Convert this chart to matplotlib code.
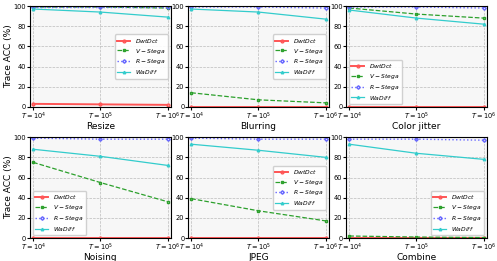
import numpy as np
import matplotlib.pyplot as plt

x_labels = [r'$T=10^4$', r'$T=10^5$', r'$T=10^6$']
attacks = ['Resize', 'Blurring', 'Color jitter', 'Noising', 'JPEG', 'Combine']

dwtdct = [[3, 2.5, 2], [0, 0, 0], [0, 0, 0], [0, 0, 0], [0, 0, 0], [0, 0, 0]]
vstega = [[99, 99, 98], [14, 7, 4], [98, 92, 88], [75, 55, 36], [39, 27, 17], [2, 1, 0.5]]
rstega = [[99, 99, 99], [99, 99, 98], [99, 99, 98], [99, 98, 98], [99, 98, 98], [98, 98, 97]]
wadiff = [[97, 94, 89], [97, 94, 87], [96, 88, 82], [88, 81, 72], [93, 87, 80], [93, 84, 78]]

legend_locs = ['center right', 'center right', 'lower left', 'lower left', 'center right', 'lower right']

fig, axes = plt.subplots(2, 3, figsize=(4.97, 2.61), dpi=100)
plt.subplots_adjust(left=0.06, right=0.98, top=0.977, bottom=0.088, wspace=0.12, hspace=0.30)

xs = np.arange(3)
for i, ax in enumerate(axes.flat):
    ax.set_facecolor('#f7f7f7')
    ax.plot(xs, dwtdct[i], color='#ff5555', marker='o', markersize=2, mfc='none',
            lw=1.4, label=r'$DwtDct$')
    ax.plot(xs, vstega[i], color='#2ca02c', marker='s', markersize=2, mfc='none',
            lw=0.9, ls='--', label=r'$V-Stega$')
    ax.plot(xs, rstega[i], color='#6666ff', marker='D', markersize=1.8, mfc='none',
            lw=1.0, ls=':', label=r'$R-Stega$')
    ax.plot(xs, wadiff[i], color='#33cccc', marker='^', markersize=1.8, mfc='none',
            lw=0.9, label=r'$WaDiff$')
    ax.set_ylim(0, 100)
    ax.set_xlim(-0.05, 2.05)
    ax.set_yticks([0, 20, 40, 60, 80, 100])
    ax.set_xticks(xs)
    ax.set_xticklabels(x_labels)
    ax.tick_params(labelsize=4.8, length=2, pad=0.5)
    ax.grid(True, color='#bbbbbb', ls='--', lw=0.5)
    ax.set_xlabel(attacks[i], fontsize=6.5, labelpad=0)
    if i % 3 == 0:
        ax.set_ylabel('Trace ACC (%)', fontsize=6.5, labelpad=0.5)
    ax.legend(loc=legend_locs[i], fontsize=4.3, handlelength=2.2, labelspacing=0.3,
              borderpad=0.4, framealpha=0.9)

plt.savefig('out.png', dpi=100)
